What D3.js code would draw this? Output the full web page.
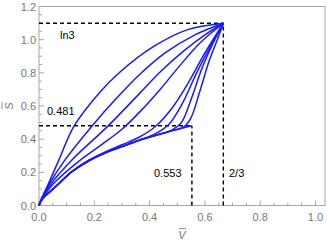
<!DOCTYPE html>
<html>
<head>
<meta charset="utf-8">
<script src="https://cdn.jsdelivr.net/npm/d3@7"></script>
<style>
  body { margin: 0; background: #fff; }
  svg { display: block; }
  text { font-family: "Liberation Sans", Arial, sans-serif; }
</style>
</head>
<body>
<div id="chart"></div>
<script>
// Tick values
const xTicks = [0, 0.2, 0.4, 0.6, 0.8, 1.0];
const yTicks = [0, 0.2, 0.4, 0.6, 0.8, 1.0, 1.2];

// Reference points
const vCorner = 0.553, sCorner = 0.481;
const vEnd = 2 / 3, sEnd = Math.log(3);

// Curves (V, S)
const curve1 = [[0,0],[0.01,0.045],[0.029,0.112],[0.072,0.275],[0.127,0.48],[0.221,0.685],[0.293,0.805],[0.412,0.956],[0.535,1.059],[0.667,1.099]];
const curve2 = [[0,0],[0.01,0.042],[0.033,0.118],[0.094,0.275],[0.192,0.48],[0.275,0.637],[0.362,0.787],[0.456,0.92],[0.564,1.029],[0.667,1.099]];
const curve3 = [[0,0],[0.01,0.04],[0.04,0.124],[0.119,0.275],[0.25,0.48],[0.362,0.673],[0.438,0.805],[0.528,0.938],[0.6,1.029],[0.667,1.099]];
const curve4 = [[0,0],[0.01,0.038],[0.05,0.128],[0.14,0.262],[0.22,0.36],[0.30,0.46],[0.362,0.56],[0.438,0.70],[0.51,0.845],[0.582,0.98],[0.667,1.099]];
const curve5 = [[0,0],[0.01,0.036],[0.06,0.115],[0.12,0.207],[0.18,0.273],[0.24,0.323],[0.30,0.366],[0.36,0.41],[0.42,0.475],[0.48,0.585],[0.54,0.74],[0.60,0.92],[0.667,1.099]];
const curve6 = [[0,0],[0.01,0.035],[0.06,0.113],[0.12,0.205],[0.18,0.27],[0.24,0.318],[0.30,0.355],[0.36,0.393],[0.42,0.432],[0.47,0.49],[0.52,0.62],[0.57,0.80],[0.62,0.96],[0.667,1.099]];
const curve7 = [[0,0],[0.01,0.035],[0.06,0.113],[0.12,0.205],[0.18,0.27],[0.24,0.318],[0.30,0.355],[0.36,0.392],[0.42,0.423],[0.48,0.455],[0.515,0.50],[0.55,0.64],[0.59,0.83],[0.63,0.98],[0.667,1.099]];
const curve8 = [[0,0],[0.01,0.035],[0.06,0.113],[0.12,0.205],[0.18,0.27],[0.24,0.318],[0.30,0.355],[0.36,0.392],[0.42,0.422],[0.48,0.451],[0.525,0.475],[0.55,0.53],[0.58,0.68],[0.615,0.87],[0.645,1.0],[0.667,1.099]];
const curve9 = [[0,0],[0.01,0.035],[0.06,0.113],[0.12,0.205],[0.18,0.27],[0.24,0.318],[0.30,0.355],[0.36,0.392],[0.42,0.422],[0.48,0.45],[0.553,0.481]];
const curves = [curve1, curve2, curve3, curve4, curve5, curve6, curve7, curve8, curve9];

const width = 327, height = 244;
const left = 39, bottom = 205.5;

const svg = d3.select("#chart").append("svg")
    .attr("width", width)
    .attr("height", height);

const x = d3.scaleLinear().domain([0, 1]).range([left, left + 276.5]);
const y = d3.scaleLinear().domain([0, 1.2]).range([bottom, 6.5]);
const xMax = x.invert(325);

// Frame
svg.append("rect")
    .attr("x", x(0)).attr("y", y(1.2))
    .attr("width", x(xMax) - x(0)).attr("height", y(0) - y(1.2))
    .attr("fill", "none").attr("stroke", "#a6a6a6").attr("stroke-width", 1);

// Ticks (major + minor)
const tickColor = "#a6a6a6";
d3.range(0, xMax + 1e-9, 0.05).forEach((t, i) => {
    const major = i % 4 === 0;
    svg.append("line")
        .attr("x1", x(t)).attr("x2", x(t))
        .attr("y1", y(0)).attr("y2", y(0) - (major ? 5 : 3))
        .attr("stroke", tickColor);
});
d3.range(0, 1.2 + 1e-9, 0.05).forEach((t, i) => {
    const major = i % 4 === 0;
    svg.append("line")
        .attr("x1", x(0)).attr("x2", x(0) + (major ? 5 : 3))
        .attr("y1", y(t)).attr("y2", y(t))
        .attr("stroke", tickColor);
});

// Tick labels
svg.selectAll(".xl").data(xTicks).enter().append("text")
    .attr("x", d => x(d)).attr("y", y(0) + 15)
    .attr("text-anchor", "middle")
    .attr("font-size", 11).attr("fill", "#777")
    .text(d => d.toFixed(1));
svg.selectAll(".yl").data(yTicks).enter().append("text")
    .attr("x", x(0) - 3).attr("y", d => y(d) + 4)
    .attr("text-anchor", "end")
    .attr("font-size", 11).attr("fill", "#777")
    .text(d => d.toFixed(1));

// Axis labels with overbar (bar drawn as a line)
function barLabel(g, txt) {
    g.append("text")
        .attr("text-anchor", "middle")
        .attr("font-size", 11).attr("font-style", "italic").attr("fill", "#777")
        .text(txt);
    g.append("line")
        .attr("x1", -3).attr("x2", 4)
        .attr("y1", -10.5).attr("y2", -10.5)
        .attr("stroke", "#777").attr("stroke-width", 0.8);
}
barLabel(svg.append("g").attr("transform", "translate(182,239)"), "V");
barLabel(svg.append("g").attr("transform", "translate(12.5,106) rotate(-90)"), "S");

// Dashed guide lines
const dash = "4,3";
const guides = [
    [0, sEnd, vEnd, sEnd], [vEnd, 0, vEnd, sEnd],
    [0, sCorner, vCorner, sCorner], [vCorner, 0, vCorner, sCorner]
];
guides.forEach(g => {
    svg.append("line")
        .attr("x1", x(g[0])).attr("y1", y(g[1]))
        .attr("x2", x(g[2])).attr("y2", y(g[3]))
        .attr("stroke", "#000").attr("stroke-width", 1.4)
        .attr("stroke-dasharray", dash);
});

// Curves
const line = d3.line()
    .x(d => x(d[0])).y(d => y(d[1]))
    .curve(d3.curveCatmullRom.alpha(0.5));
svg.selectAll(".curve").data(curves).enter().append("path")
    .attr("d", line)
    .attr("fill", "none")
    .attr("stroke", "#1a1aff")
    .attr("stroke-width", 1.5);

// Annotations
const notes = [["ln3", 60, 39], ["0.481", 47, 115], ["0.553", 154, 177], ["2/3", 229, 177]];
notes.forEach(n => {
    svg.append("text")
        .attr("x", n[1]).attr("y", n[2])
        .attr("font-size", 11).attr("fill", "#000")
        .text(n[0]);
});
</script>
</body>
</html>
